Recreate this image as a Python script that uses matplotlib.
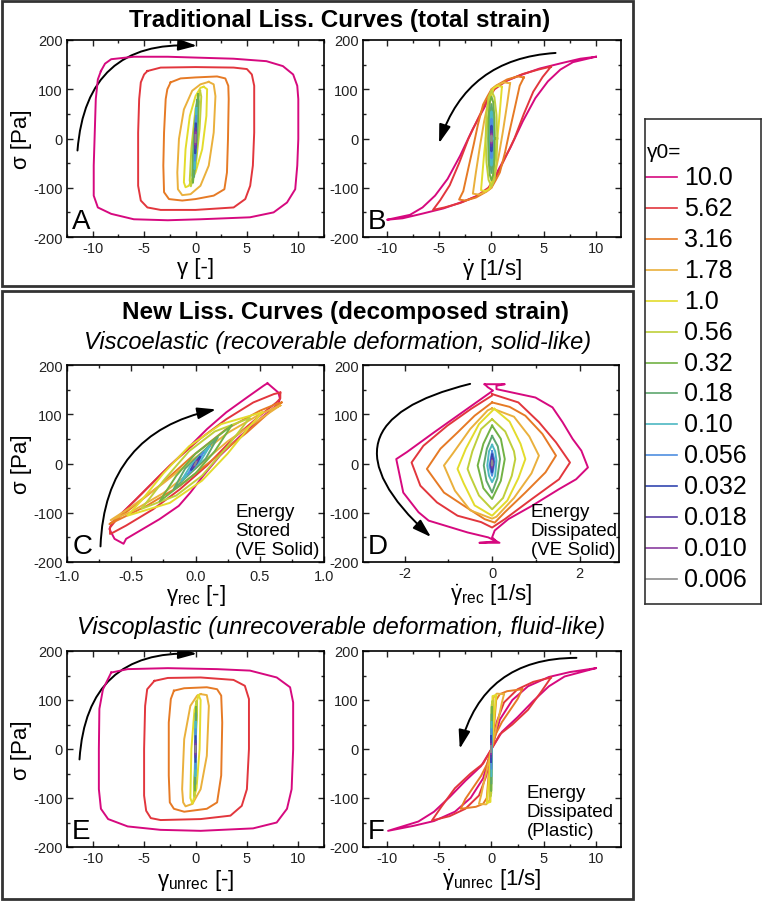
import numpy as np
import matplotlib
matplotlib.use("Agg")
import matplotlib.pyplot as plt
from matplotlib.patches import Rectangle, FancyArrowPatch
from matplotlib.ticker import MultipleLocator, FormatStrFormatter

plt.rcParams['font.family'] = ['Liberation Sans', 'DejaVu Sans']
plt.rcParams['mathtext.fontset'] = 'custom'
plt.rcParams['mathtext.rm'] = 'Liberation Sans'
plt.rcParams['mathtext.it'] = 'Liberation Sans:italic'
plt.rcParams['mathtext.bf'] = 'Liberation Sans:bold'
plt.rcParams['axes.unicode_minus'] = False

# strain amplitudes and their colours
amp_labels = ['10.0', '5.62', '3.16', '1.78', '1.0', '0.56', '0.32', '0.18',
              '0.10', '0.056', '0.032', '0.018', '0.010', '0.006']
amp_colors = ['#d6097f', '#e2363d', '#e67a25', '#eab03c', '#e3dc2c', '#bfcf3a',
              '#72b244', '#5ea76e', '#4db8c2', '#4f8fe0', '#3447b0', '#5a3fa6',
              '#8a3d9f', '#8c8c8c']

# panel A: sigma vs total strain
A_loops = {
    '10.0': [(-9.2, 137), (-8.8, 152), (-8.2, 161), (-6.0, 166), (-2.7, 166), (0.5, 164), (3.7, 162),
             (6.9, 157), (8.5, 147), (9.5, 130), (9.9, 107), (10.0, 80), (10.0, -1), (9.9, -55),
             (9.7, -103), (8.9, -130), (7.6, -150), (5.3, -160), (0.5, -164), (-2.7, -166),
             (-6.0, -164), (-8.2, -153), (-9.5, -140), (-9.9, -116), (-9.9, -55), (-9.8, 12),
             (-9.7, 80), (-9.5, 120), (-9.2, 137)],
    '5.62': [(-4.68, 137), (-3.39, 144), (0, 145), (3.71, 144), (5.0, 141), (5.48, 130), (5.71, 107),
             (5.71, 12), (5.58, -55), (5.32, -96), (4.84, -123), (3.71, -140), (0, -145),
             (-3.39, -145), (-4.68, -140), (-5.32, -126), (-5.58, -96), (-5.58, 12), (-5.48, 80),
             (-5.32, 114), (-5.0, 130), (-4.68, 137)],
    '3.16': [(-2.42, 114), (-1.45, 122), (0, 124), (2.1, 126), (2.9, 122), (3.19, 107), (3.23, 80),
             (3.16, -1), (3.06, -69), (2.81, -103), (1.77, -116), (0, -123), (-1.29, -126),
             (-2.58, -123), (-3.06, -109), (-3.13, -55), (-3.06, 12), (-2.9, 80), (-2.74, 100),
             (-2.42, 114)],
    '1.78': [(1.29, 115), (1.77, 110), (1.94, 86), (1.77, 12), (1.29, -55), (0.48, -96),
             (-0.48, -113), (-1.29, -115), (-1.71, -103), (-1.77, -69), (-1.61, -1), (-1.13, 59),
             (-0.32, 97), (0.48, 110), (1.29, 115)],
    '1.0': [(0.81, 105), (1.13, 100), (1.06, 46), (0.65, -22), (0.0, -69), (-0.65, -96),
            (-0.97, -99), (-1.13, -89), (-0.97, -22), (-0.55, 46), (0.0, 86), (0.48, 103), (0.81, 105)],
    '0.56': [(0.45, 97), (0.56, 85), (0.4, 20), (0.0, -60), (-0.45, -97), (-0.56, -85), (-0.4, -20),
             (0.0, 60), (0.45, 97)],
    '0.32': [(0.25, 90), (0.32, 75), (0.2, 10), (-0.1, -60), (-0.25, -90), (-0.32, -75), (-0.2, -10),
             (0.1, 60), (0.25, 90)],
    '0.18': [(0.14, 78), (0.18, 65), (0.1, 0), (-0.14, -78), (-0.18, -65), (-0.1, 0), (0.14, 78)],
    '0.10': [(0.08, 62), (0.1, 50), (0.05, 0), (-0.08, -62), (-0.1, -50), (-0.05, 0), (0.08, 62)],
    '0.056': [(0.05, 45), (0.056, 35), (0.03, 0), (-0.05, -45), (-0.056, -35), (-0.03, 0), (0.05, 45)],
    '0.032': [(0.03, 30), (0.032, 22), (0.015, 0), (-0.03, -30), (-0.032, -22), (-0.015, 0), (0.03, 30)],
    '0.018': [(0.017, 20), (0.018, 14), (0, 0), (-0.017, -20), (-0.018, -14), (0, 0), (0.017, 20)],
    '0.010': [(0.01, 12), (0, 0), (-0.01, -12), (0, 0), (0.01, 12)],
    '0.006': [(0.006, 7), (-0.006, -7)],
}

# panel B: sigma vs total strain rate
B_loops = {
    '10.0': [(10, 166), (8.5, 162), (6.7, 153), (4.6, 142), (2.7, 128), (1.1, 114), (0.16, 100),
             (-0.6, 66), (-1.8, 19), (-3.0, -35), (-4.2, -82), (-5.4, -116), (-6.6, -140),
             (-7.8, -155), (-10, -165), (-8.5, -162), (-6.7, -153), (-4.6, -142), (-2.7, -128),
             (-1.1, -114), (-0.16, -100), (0.6, -66), (1.8, -19), (3.0, 35), (4.2, 82), (5.4, 116),
             (6.6, 140), (7.8, 155), (10, 166)],
    '5.62': [(5.7, 146), (4.5, 140), (3.0, 131), (1.5, 118), (0.3, 100), (-0.5, 75), (-1.3, 40),
             (-2.2, 0), (-3.1, -50), (-4.0, -95), (-4.9, -125), (-5.6, -145), (-4.5, -140),
             (-3.0, -131), (-1.5, -118), (-0.3, -100), (0.5, -75), (1.3, -40), (2.2, 0), (3.1, 50),
             (4.0, 95), (4.9, 125), (5.7, 146)],
    '3.16': [(3.1, 124), (2.5, 126), (1.5, 120), (0.5, 108), (0.0, 100), (-0.4, 85), (-0.8, 69),
             (-1.3, 28), (-1.7, -12), (-2.2, -59), (-2.7, -107), (-3.1, -124), (-2.5, -126),
             (-1.5, -120), (-0.5, -108), (0.0, -100), (0.4, -85), (0.8, -69), (1.3, -28), (1.7, 12),
             (2.2, 59), (2.7, 107), (3.1, 124)],
    '1.78': [(1.78, 112), (1.2, 114), (0.5, 108), (0.0, 100), (-0.3, 75), (-0.7, 35), (-1.1, -15),
             (-1.5, -70), (-1.78, -112), (-1.2, -114), (-0.5, -108), (0, -100), (0.3, -75),
             (0.7, -35), (1.1, 15), (1.5, 70), (1.78, 112)],
    '1.0': [(1.0, 105), (0.6, 107), (0.2, 102), (-0.1, 80), (-0.4, 30), (-0.7, -30), (-0.9, -80),
            (-1.0, -105), (-0.6, -107), (-0.2, -102), (0.1, -80), (0.4, -30), (0.7, 30), (0.9, 80),
            (1.0, 105)],
    '0.56': [(0.56, 0), (0.48, 48), (0.28, 84), (0, 97), (-0.28, 84), (-0.48, 48), (-0.56, 0),
             (-0.48, -48), (-0.28, -84), (0, -97), (0.28, -84), (0.48, -48), (0.56, 0)],
    '0.32': [(0.32, 0), (0.28, 43), (0.16, 74), (0, 85), (-0.16, 74), (-0.28, 43), (-0.32, 0),
             (-0.28, -43), (-0.16, -74), (0, -85), (0.16, -74), (0.28, -43), (0.32, 0)],
    '0.18': [(0.18, 0), (0.13, 50), (0, 70), (-0.13, 50), (-0.18, 0), (-0.13, -50), (0, -70),
             (0.13, -50), (0.18, 0)],
    '0.10': [(0.1, 0), (0.07, 40), (0, 55), (-0.07, 40), (-0.1, 0), (-0.07, -40), (0, -55),
             (0.07, -40), (0.1, 0)],
    '0.056': [(0.056, 0), (0.04, 28), (0, 40), (-0.04, 28), (-0.056, 0), (-0.04, -28), (0, -40),
              (0.04, -28), (0.056, 0)],
    '0.032': [(0.032, 0), (0, 26), (-0.032, 0), (0, -26), (0.032, 0)],
    '0.018': [(0.018, 0), (0, 16), (-0.018, 0), (0, -16), (0.018, 0)],
    '0.010': [(0.01, 0), (0, 10), (-0.01, 0), (0, -10), (0.01, 0)],
    '0.006': [(0.006, 0), (0, 6), (-0.006, 0), (0, -6), (0.006, 0)],
}

# panel C: sigma vs recoverable strain
C_loops = {
    '10.0': [(0.56, 163), (0.645, 144), (0.657, 132), (0.645, 121), (0.50, 90), (0.35, 56),
             (0.19, 16), (0.06, -25), (-0.04, -59), (-0.13, -86), (-0.28, -113), (-0.41, -133),
             (-0.54, -153), (-0.56, -163), (-0.63, -153), (-0.67, -133), (-0.65, -120),
             (-0.46, -72), (-0.28, -25), (-0.09, 23), (0.09, 70), (0.24, 104), (0.40, 134),
             (0.53, 158), (0.56, 163)],
    '5.62': [(0.66, 144), (0.66, 132), (0.63, 124), (0.50, 97), (0.29, 50), (0.09, -4),
             (-0.12, -52), (-0.33, -93), (-0.54, -126), (-0.64, -140), (-0.665, -143),
             (-0.665, -130), (-0.59, -106), (-0.41, -59), (-0.20, -4), (0.035, 50), (0.24, 90),
             (0.45, 124), (0.61, 141), (0.66, 144)],
    '3.16': [(0.67, 124), (0.605, 111), (0.40, 63), (0.14, 9), (-0.12, -45), (-0.38, -86),
             (-0.59, -113), (-0.67, -123), (-0.54, -99), (-0.28, -45), (-0.02, 16), (0.24, 70),
             (0.50, 107), (0.63, 121), (0.67, 124)],
    '1.78': [(0.66, 118), (0.5, 90), (0.25, 45), (0.0, -10), (-0.25, -60), (-0.5, -98),
             (-0.66, -115), (-0.5, -88), (-0.25, -40), (0.0, 12), (0.25, 62), (0.5, 100), (0.66, 118)],
    '1.0': [(0.52, 104), (0.42, 75), (0.25, 20), (0.05, -35), (-0.2, -80), (-0.53, -106),
            (-0.42, -75), (-0.25, -20), (-0.05, 35), (0.2, 80), (0.52, 104)],
    '0.56': [(0.42, 92), (0.25, 35), (0.05, -25), (-0.15, -65), (-0.42, -92), (-0.25, -35),
             (-0.05, 25), (0.15, 65), (0.42, 92)],
    '0.32': [(0.28, 77), (0.15, 25), (0.0, -20), (-0.28, -77), (-0.15, -25), (0.0, 20), (0.28, 77)],
    '0.18': [(0.17, 52), (0.08, 10), (-0.17, -52), (-0.08, -10), (0.17, 52)],
    '0.10': [(0.11, 35), (0.04, 5), (-0.11, -35), (-0.04, -5), (0.11, 35)],
    '0.056': [(0.06, 22), (0.02, 3), (-0.06, -22), (-0.02, -3), (0.06, 22)],
    '0.032': [(0.035, 13), (0.01, 1), (-0.035, -13), (-0.01, -1), (0.035, 13)],
    '0.018': [(0.02, 8), (-0.02, -8)],
    '0.010': [(0.011, 5), (-0.011, -5)],
    '0.006': [(0.006, 3), (-0.006, -3)],
}

# panel D: sigma vs recoverable strain rate
D_loops = {
    '10.0': [(-0.17, 161), (0.29, 161), (0.1, 158), (0.1, 151), (0.99, 134), (1.38, 114),
             (1.61, 84), (1.84, 50), (2.04, 26), (2.19, -8), (1.92, -32), (1.53, -52), (0.91, -86),
             (0.37, -113), (0.06, -136), (0.0, -150), (0.1, -158), (-0.29, -161), (0.17, -161),
             (-0.09, -150), (-0.56, -140), (-1.45, -116), (-1.68, -99), (-2.03, -59), (-2.19, 9),
             (-1.95, 23), (-1.33, 63), (-0.79, 97), (-0.25, 131), (0.02, 148), (-0.1, 155),
             (-0.17, 161)],
    '5.62': [(0, 141), (0.6, 124), (1.07, 84), (1.46, 43), (1.78, 2), (1.53, -32), (0.91, -72),
             (0.29, -113), (0, -130), (-0.25, -119), (-0.79, -106), (-1.26, -79), (-1.64, -45),
             (-1.84, 2), (-1.57, 36), (-1.02, 77), (-0.48, 111), (0, 138), (0, 141)],
    '3.16': [(0, 124), (0.4, 115), (0.76, 97), (1.15, 60), (1.46, 16), (1.22, -18), (0.76, -59),
             (0.29, -99), (0.06, -120), (-0.17, -113), (-0.64, -86), (-1.1, -59), (-1.49, -11),
             (-1.18, 30), (-0.79, 63), (-0.4, 97), (0, 124)],
    '1.78': [(0, 112), (0.5, 95), (0.85, 55), (1.07, 16), (0.9, -20), (0.5, -70), (0.1, -108),
             (0, -112), (-0.5, -95), (-0.85, -55), (-1.1, -4), (-0.9, 20), (-0.5, 70),
             (-0.1, 108), (0, 112)],
    '1.0': [(0.05, 111), (0.4, 85), (0.65, 40), (0.76, 9), (0.6, -30), (0.35, -75), (0, -106),
            (-0.4, -85), (-0.65, -40), (-0.79, -11), (-0.6, 30), (-0.3, 80), (0.05, 111)],
    '0.56': [(0, 90), (0.3, 65), (0.5, 25), (0.53, 9), (0.45, -25), (0.25, -70), (0, -93),
             (-0.3, -65), (-0.5, -25), (-0.56, -11), (-0.45, 25), (-0.25, 70), (0, 90)],
    '0.32': [(0, 77), (0.2, 50), (0.29, 9), (0.2, -35), (0, -72), (-0.2, -50), (-0.33, -4),
             (-0.2, 40), (0, 77)],
    '0.18': [(0, 56), (0.13, 35), (0.18, 9), (0.12, -30), (0, -59), (-0.13, -35), (-0.19, -4),
             (-0.12, 30), (0, 56)],
    '0.10': [(0, 38), (0.07, 25), (0.1, 6), (0.07, -25), (0, -38), (-0.07, -25), (-0.11, -4),
             (-0.07, 25), (0, 38)],
    '0.056': [(0, 25), (0.06, 5), (0, -25), (-0.06, -5), (0, 25)],
    '0.032': [(0, 18), (0.035, 3), (0, -18), (-0.035, -3), (0, 18)],
    '0.018': [(0, 11), (0.02, 2), (0, -11), (-0.02, -2), (0, 11)],
    '0.010': [(0, 7), (0.012, 0), (0, -7), (-0.012, 0), (0, 7)],
    '0.006': [(0, 4), (0.007, 0), (0, -4), (-0.007, 0), (0, 4)],
}

# panel E: sigma vs unrecoverable strain
E_loops = {
    '10.0': [(-8.2, 156), (-6.6, 163), (-2.7, 165), (2.1, 163), (5.3, 160), (7.9, 146), (9.2, 126),
             (9.5, 95), (9.5, 0), (9.35, -82), (8.9, -122), (7.9, -150), (5.6, -162), (0.5, -167),
             (-3.4, -165), (-6.6, -158), (-8.5, -143), (-9.2, -122), (-9.4, -82), (-9.4, 0),
             (-9.35, 82), (-9.0, 122), (-8.2, 156)],
    '5.62': [(-4.0, 139), (-2.7, 145), (0.5, 146), (3.7, 141), (4.8, 129), (5.2, 102), (5.2, 0),
             (5.0, -82), (4.5, -116), (3.4, -136), (0.5, -143), (-3.4, -145), (-4.35, -141),
             (-4.8, -126), (-5.0, -95), (-5.0, 0), (-4.9, 88), (-4.7, 122), (-4.0, 139)],
    '3.16': [(-2.1, 119), (-1.1, 124), (1.1, 126), (2.1, 122), (2.5, 109), (2.6, 54), (2.5, -54),
             (2.1, -109), (1.1, -122), (-1.1, -128), (-2.1, -122), (-2.5, -109), (-2.6, -54),
             (-2.6, 54), (-2.4, 102), (-2.1, 119)],
    '1.78': [(0.5, 112), (1.1, 110), (1.3, 88), (1.1, -14), (0.5, -82), (-0.3, -112),
             (-0.97, -117), (-1.2, -109), (-1.3, -82), (-1.1, 20), (-0.5, 88), (0.16, 109), (0.5, 112)],
    '1.0': [(0.3, 110), (0.5, 100), (0.4, 0), (0.1, -80), (-0.3, -112), (-0.5, -100), (-0.4, 0),
            (-0.1, 80), (0.3, 110)],
    '0.56': [(0.1, 97), (0.15, 80), (0.0, 0), (-0.1, -97), (-0.15, -80), (0.0, 0), (0.1, 97)],
    '0.32': [(0.05, 85), (0.07, 60), (0, 0), (-0.05, -85), (-0.07, -60), (0, 0), (0.05, 85)],
    '0.18': [(0.03, 72), (0, 0), (-0.03, -72), (0, 0), (0.03, 72)],
    '0.10': [(0.02, 55), (-0.02, -55), (0.02, 55)],
    '0.056': [(0.01, 40), (-0.01, -40)],
    '0.032': [(0.005, 26), (-0.005, -26)],
    '0.018': [(0.003, 16), (-0.003, -16)],
    '0.010': [(0.002, 10), (-0.002, -10)],
    '0.006': [(0.001, 6), (-0.001, -6)],
}

# panel F: sigma vs unrecoverable strain rate
F_loops = {
    '10.0': [(10, 165), (7.5, 157), (5.5, 147), (3.5, 128), (2.0, 100), (0.8, 60), (0, 0),
             (-1.0, -35), (-2.5, -65), (-4.0, -98), (-5.5, -128), (-7.0, -148), (-9.9, -167),
             (-7.5, -157), (-5.5, -147), (-3.5, -128), (-2.0, -100), (-0.8, -60), (0, 0),
             (1.0, 35), (2.5, 65), (4.0, 98), (5.5, 128), (7.0, 148), (10, 165)],
    '5.62': [(5.7, 146), (4.0, 137), (2.5, 122), (1.2, 95), (0.5, 55), (0, 0), (-0.8, -30),
             (-2.0, -50), (-3.5, -80), (-4.8, -118), (-5.7, -146), (-4.0, -137), (-2.5, -122),
             (-1.2, -95), (-0.5, -55), (0, 0), (0.8, 30), (2.0, 50), (3.5, 80), (4.8, 118), (5.7, 146)],
    '3.16': [(2.95, 122), (1.5, 118), (0.8, 112), (0.45, 100), (0.3, 60), (0.05, 5), (-0.4, -30),
             (-1.0, -55), (-1.8, -80), (-2.5, -102), (-2.95, -122), (-1.5, -118), (-0.8, -112),
             (-0.45, -100), (-0.3, -60), (-0.05, -5), (0.4, 30), (1.0, 55), (1.8, 80), (2.5, 102),
             (2.95, 122)],
    '1.78': [(1.2, 112), (0.5, 113), (0.2, 105), (0.15, 60), (0, 0), (-0.3, -30), (-0.7, -65),
             (-1.0, -95), (-1.2, -112), (-0.5, -113), (-0.2, -105), (-0.15, -60), (0, 0), (0.3, 30),
             (0.7, 65), (1.0, 95), (1.2, 112)],
    '1.0': [(0.45, 110), (0.1, 108), (0.05, 50), (0, 0), (-0.2, -50), (-0.45, -110), (-0.1, -108),
            (-0.05, -50), (0, 0), (0.2, 50), (0.45, 110)],
    '0.56': [(0.1, 97), (0.02, 90), (0, 0), (-0.1, -97), (-0.02, -90), (0, 0), (0.1, 97)],
    '0.32': [(0.03, 85), (0, 0), (-0.03, -85), (0, 0), (0.03, 85)],
    '0.18': [(0.01, 70), (-0.01, -70)],
    '0.10': [(0.005, 55), (-0.005, -55)],
    '0.056': [(0.003, 40), (-0.003, -40)],
    '0.032': [(0, 26), (0, -26)],
    '0.018': [(0, 16), (0, -16)],
    '0.010': [(0, 10), (0, -10)],
    '0.006': [(0, 6), (0, -6)],
}

W, H = 762, 903
fig = plt.figure(figsize=(W / 100, H / 100), dpi=100)


def fx(px):
    return px / W


def fy(py):
    return 1 - py / H


def make_axes(left, top, right, bottom):
    return fig.add_axes([fx(left), fy(bottom), fx(right - left), (bottom - top) / H])


def draw_panel(ax, loops, xlim, xmajor, xminor, xlabel, letter, ylabel, fmt=None):
    for lab, col in zip(amp_labels, amp_colors):
        pts = loops[lab]
        xs = [p[0] for p in pts]
        ys = [p[1] for p in pts]
        ax.plot(xs, ys, color=col, lw=1.4, solid_joinstyle='round')
    ax.set_xlim(*xlim)
    ax.set_ylim(-200, 200)
    ax.xaxis.set_major_locator(MultipleLocator(xmajor))
    ax.xaxis.set_minor_locator(MultipleLocator(xminor))
    ax.yaxis.set_major_locator(MultipleLocator(100))
    ax.yaxis.set_minor_locator(MultipleLocator(50))
    if fmt:
        ax.xaxis.set_major_formatter(FormatStrFormatter(fmt))
    ax.tick_params(which='both', direction='in', top=True, right=True,
                   labelsize=10.5, colors='#222222', width=1.0, pad=3)
    ax.tick_params(which='major', length=4)
    ax.tick_params(which='minor', length=2.5)
    for s in ax.spines.values():
        s.set_linewidth(1.2)
    ax.set_xlabel(xlabel, fontsize=16, labelpad=1)
    if ylabel:
        ax.set_ylabel('σ [Pa]', fontsize=16, labelpad=1)
    ax.text(0.02, 0.015, letter, transform=ax.transAxes, fontsize=20,
            ha='left', va='bottom')


def add_arrow(ax, start, end, rad):
    arr = FancyArrowPatch(start, end, connectionstyle=f"arc3,rad={rad}",
                          arrowstyle='-|>,head_length=0.7,head_width=0.22',
                          mutation_scale=16, lw=1.4, color='black')
    ax.add_patch(arr)


axA = make_axes(67, 41, 324, 238)
axB = make_axes(363, 41, 621, 238)
axC = make_axes(67, 366, 324, 563)
axD = make_axes(363, 366, 619, 563)
axE = make_axes(67, 652, 324, 848)
axF = make_axes(363, 652, 621, 848)

draw_panel(axA, A_loops, (-12.5, 12.5), 5, 2.5, 'γ [-]', 'A', True)
draw_panel(axB, B_loops, (-12.3, 12.4), 5, 2.5, r'$\dot{\mathrm{\gamma}}$ [1/s]', 'B', False)
draw_panel(axC, C_loops, (-1.0, 1.0), 0.5, 0.25, r'$\mathrm{\gamma_{rec}}$ [-]', 'C', True, '%.1f')
draw_panel(axD, D_loops, (-2.95, 2.9), 2, 1, r'$\dot{\mathrm{\gamma}}_{\mathrm{rec}}$ [1/s]', 'D', False)
draw_panel(axE, E_loops, (-12.5, 12.5), 5, 2.5, r'$\mathrm{\gamma_{unrec}}$ [-]', 'E', True)
draw_panel(axF, F_loops, (-12.3, 12.4), 5, 2.5, r'$\dot{\mathrm{\gamma}}_{\mathrm{unrec}}$ [1/s]', 'F', False)

# C has its x labels pushed down a touch so "-1.0" clears "-200"
axC.tick_params(axis='x', which='major', pad=5)
axC.set_xlabel(axC.get_xlabel(), fontsize=16, labelpad=-1)

add_arrow(axA, (-11.5, -30), (0.4, 188), -0.5)
add_arrow(axB, (6.4, 174), (-5.1, -15), 0.35)
add_arrow(axC, (-0.74, -174), (0.18, 111), -0.4)
add_arrow(axD, (-0.44, 163), (-1.35, -153), 0.95)
add_arrow(axE, (-11.3, -27), (0.4, 194), -0.5)
add_arrow(axF, (8.4, 186), (-3.1, -5), 0.4)

note_kw = dict(fontsize=13.5, ha='left', va='bottom', linespacing=1.15)
axC.text(0.655, 0.02, 'Energy\nStored\n(VE Solid)', transform=axC.transAxes, **note_kw)
axD.text(0.655, 0.02, 'Energy\nDissipated\n(VE Solid)', transform=axD.transAxes, **note_kw)
axF.text(0.635, 0.04, 'Energy\nDissipated\n(Plastic)', transform=axF.transAxes, **note_kw)

# framing boxes and titles
for (x0, y0, x1, y1) in [(2, 2, 633, 287), (2, 292, 633, 900)]:
    fig.add_artist(Rectangle((fx(x0), fy(y1)), fx(x1 - x0), (y1 - y0) / H,
                             transform=fig.transFigure, fill=False, lw=2, edgecolor='#333333'))

fig.text(fx(340), fy(21), 'Traditional Liss. Curves (total strain)', ha='center', va='center',
         fontsize=17.5, fontweight='bold')
fig.text(fx(345), fy(312), 'New Liss. Curves (decomposed strain)', ha='center', va='center',
         fontsize=17.5, fontweight='bold')
fig.text(fx(338), fy(342), 'Viscoelastic (recoverable deformation, solid-like)', ha='center',
         va='center', fontsize=17, style='italic')
fig.text(fx(341), fy(628), 'Viscoplastic (unrecoverable deformation, fluid-like)', ha='center',
         va='center', fontsize=17, style='italic')

# legend
axL = make_axes(645, 120, 761, 605)
axL.set_xlim(0, 1)
axL.set_ylim(0, 1)
axL.set_xticks([])
axL.set_yticks([])
for s in axL.spines.values():
    s.set_linewidth(1.2)
    s.set_edgecolor('#333333')
axL.text(0.02, 0.932, 'γ0=', fontsize=15, ha='left', va='center')
for i, (lab, col) in enumerate(zip(amp_labels, amp_colors)):
    yy = 0.880 - i * 0.0637
    axL.plot([0.0, 0.28], [yy, yy], color=col, lw=1.2)
    axL.text(0.34, yy, lab, fontsize=18, ha='left', va='center')

fig.savefig('out.png', dpi=100)
